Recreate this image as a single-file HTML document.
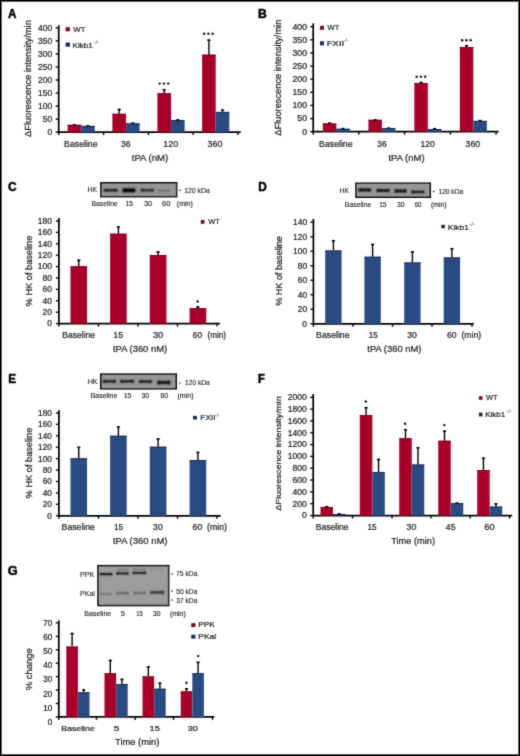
<!DOCTYPE html>
<html><head><meta charset="utf-8"><style>
html,body{margin:0;padding:0;background:#fff;}
#w{position:relative;width:520px;height:756px;overflow:hidden;}
#w svg{position:absolute;left:0;top:0;display:block;}
#b{position:absolute;left:0;top:0;width:520px;height:756px;box-shadow:inset 0 0 0 1px #000,inset 0 0 0 2px rgba(0,0,0,0.55),inset 0 0 0 3px rgba(0,0,0,0.07);}
text{font-family:"Liberation Sans",sans-serif;stroke:currentColor;stroke-width:0.22px;}
</style></head><body><div id="w">
<svg width="520" height="756" viewBox="0 0 520 756">
<defs><filter id="bl" x="-20%" y="-60%" width="140%" height="220%"><feGaussianBlur stdDeviation="0.8"/></filter><filter id="bl2" x="-20%" y="-80%" width="140%" height="260%"><feGaussianBlur stdDeviation="1.0"/></filter><filter id="bb" x="-30%" y="-100%" width="160%" height="300%"><feConvolveMatrix order="5" kernelMatrix="0.00023 0.00332 0.00809 0.00332 0.00023 0.00332 0.04785 0.11640 0.04785 0.00332 0.00809 0.11640 0.28313 0.11640 0.00809 0.00332 0.04785 0.11640 0.04785 0.00332 0.00023 0.00332 0.00809 0.00332 0.00023" edgeMode="none"/></filter><filter id="soft" x="0" y="0" width="520" height="756" filterUnits="userSpaceOnUse"><feConvolveMatrix order="3" kernelMatrix="0.01917 0.10012 0.01917 0.10012 0.52283 0.10012 0.01917 0.10012 0.01917" edgeMode="duplicate"/></filter></defs>
<rect x="0" y="0" width="520" height="756" fill="#fff"/>
<g filter="url(#soft)">
<text x="8.11" y="18.30" font-size="12" font-weight="bold" fill="#000" color="#000" textLength="8.40" lengthAdjust="spacingAndGlyphs" style="stroke-width:0.5px">A</text>
<line x1="58.70" y1="25.20" x2="58.70" y2="132.97" stroke="#000" stroke-width="1.75"/>
<line x1="55.70" y1="132.10" x2="58.70" y2="132.10" stroke="#000" stroke-width="1.35"/>
<text x="47.44" y="134.96" font-size="8.2" fill="#1e1e1e" color="#1e1e1e" textLength="4.74" lengthAdjust="spacingAndGlyphs">0</text>
<line x1="55.70" y1="119.07" x2="58.70" y2="119.07" stroke="#000" stroke-width="1.35"/>
<text x="42.70" y="121.93" font-size="8.2" fill="#1e1e1e" color="#1e1e1e" textLength="9.49" lengthAdjust="spacingAndGlyphs">50</text>
<line x1="55.70" y1="106.04" x2="58.70" y2="106.04" stroke="#000" stroke-width="1.35"/>
<text x="37.95" y="108.90" font-size="8.2" fill="#1e1e1e" color="#1e1e1e" textLength="14.23" lengthAdjust="spacingAndGlyphs">100</text>
<line x1="55.70" y1="93.01" x2="58.70" y2="93.01" stroke="#000" stroke-width="1.35"/>
<text x="37.95" y="95.87" font-size="8.2" fill="#1e1e1e" color="#1e1e1e" textLength="14.23" lengthAdjust="spacingAndGlyphs">150</text>
<line x1="55.70" y1="79.98" x2="58.70" y2="79.98" stroke="#000" stroke-width="1.35"/>
<text x="37.95" y="82.84" font-size="8.2" fill="#1e1e1e" color="#1e1e1e" textLength="14.23" lengthAdjust="spacingAndGlyphs">200</text>
<line x1="55.70" y1="66.95" x2="58.70" y2="66.95" stroke="#000" stroke-width="1.35"/>
<text x="37.95" y="69.81" font-size="8.2" fill="#1e1e1e" color="#1e1e1e" textLength="14.23" lengthAdjust="spacingAndGlyphs">250</text>
<line x1="55.70" y1="53.92" x2="58.70" y2="53.92" stroke="#000" stroke-width="1.35"/>
<text x="37.95" y="56.78" font-size="8.2" fill="#1e1e1e" color="#1e1e1e" textLength="14.23" lengthAdjust="spacingAndGlyphs">300</text>
<line x1="55.70" y1="40.89" x2="58.70" y2="40.89" stroke="#000" stroke-width="1.35"/>
<text x="37.95" y="43.75" font-size="8.2" fill="#1e1e1e" color="#1e1e1e" textLength="14.23" lengthAdjust="spacingAndGlyphs">350</text>
<line x1="55.70" y1="27.86" x2="58.70" y2="27.86" stroke="#000" stroke-width="1.35"/>
<text x="37.95" y="30.72" font-size="8.2" fill="#1e1e1e" color="#1e1e1e" textLength="14.23" lengthAdjust="spacingAndGlyphs">400</text>
<line x1="57.83" y1="132.10" x2="240.70" y2="132.10" stroke="#000" stroke-width="1.75"/>
<line x1="58.70" y1="132.10" x2="58.70" y2="135.10" stroke="#000" stroke-width="1.35"/>
<line x1="103.60" y1="132.10" x2="103.60" y2="135.10" stroke="#000" stroke-width="1.35"/>
<line x1="148.40" y1="132.10" x2="148.40" y2="135.10" stroke="#000" stroke-width="1.35"/>
<line x1="193.10" y1="132.10" x2="193.10" y2="135.10" stroke="#000" stroke-width="1.35"/>
<line x1="237.90" y1="132.10" x2="237.90" y2="135.10" stroke="#000" stroke-width="1.35"/>
<rect x="67.60" y="124.80" width="13.60" height="7.30" fill="#a6022c"/>
<rect x="67.60" y="124.80" width="13.60" height="1.00" fill="#76001f"/>
<line x1="74.40" y1="124.10" x2="74.40" y2="124.80" stroke="#000" stroke-width="1.4"/>
<line x1="72.80" y1="124.80" x2="76.00" y2="124.80" stroke="#000" stroke-width="1.5"/>
<rect x="112.40" y="113.80" width="13.60" height="18.30" fill="#a6022c"/>
<rect x="112.40" y="113.80" width="13.60" height="1.00" fill="#76001f"/>
<line x1="119.20" y1="108.80" x2="119.20" y2="113.80" stroke="#000" stroke-width="1.4"/>
<line x1="117.60" y1="109.50" x2="120.80" y2="109.50" stroke="#000" stroke-width="1.5"/>
<rect x="157.40" y="93.30" width="13.60" height="38.80" fill="#a6022c"/>
<rect x="157.40" y="93.30" width="13.60" height="1.00" fill="#76001f"/>
<line x1="164.20" y1="89.10" x2="164.20" y2="93.30" stroke="#000" stroke-width="1.4"/>
<line x1="162.60" y1="89.80" x2="165.80" y2="89.80" stroke="#000" stroke-width="1.5"/>
<rect x="202.10" y="54.70" width="13.60" height="77.40" fill="#a6022c"/>
<rect x="202.10" y="54.70" width="13.60" height="1.00" fill="#76001f"/>
<line x1="208.90" y1="39.50" x2="208.90" y2="54.70" stroke="#000" stroke-width="1.4"/>
<line x1="207.30" y1="40.20" x2="210.50" y2="40.20" stroke="#000" stroke-width="1.5"/>
<rect x="81.20" y="125.90" width="13.60" height="6.20" fill="#2c4c82"/>
<rect x="81.20" y="125.90" width="13.60" height="1.00" fill="#182b55"/>
<line x1="88.00" y1="125.20" x2="88.00" y2="125.90" stroke="#000" stroke-width="1.4"/>
<line x1="86.40" y1="125.90" x2="89.60" y2="125.90" stroke="#000" stroke-width="1.5"/>
<rect x="126.00" y="123.40" width="13.60" height="8.70" fill="#2c4c82"/>
<rect x="126.00" y="123.40" width="13.60" height="1.00" fill="#182b55"/>
<line x1="132.80" y1="122.60" x2="132.80" y2="123.40" stroke="#000" stroke-width="1.4"/>
<line x1="131.20" y1="123.30" x2="134.40" y2="123.30" stroke="#000" stroke-width="1.5"/>
<rect x="171.00" y="120.00" width="13.60" height="12.10" fill="#2c4c82"/>
<rect x="171.00" y="120.00" width="13.60" height="1.00" fill="#182b55"/>
<line x1="177.80" y1="119.30" x2="177.80" y2="120.00" stroke="#000" stroke-width="1.4"/>
<line x1="176.20" y1="120.00" x2="179.40" y2="120.00" stroke="#000" stroke-width="1.5"/>
<rect x="215.70" y="111.90" width="13.60" height="20.20" fill="#2c4c82"/>
<rect x="215.70" y="111.90" width="13.60" height="1.00" fill="#182b55"/>
<line x1="222.50" y1="109.40" x2="222.50" y2="111.90" stroke="#000" stroke-width="1.4"/>
<line x1="220.90" y1="110.10" x2="224.10" y2="110.10" stroke="#000" stroke-width="1.5"/>
<circle cx="159.65" cy="83.60" r="1.2" fill="#111"/>
<circle cx="163.90" cy="83.60" r="1.2" fill="#111"/>
<circle cx="168.15" cy="83.60" r="1.2" fill="#111"/>
<circle cx="204.15" cy="33.80" r="1.2" fill="#111"/>
<circle cx="208.40" cy="33.80" r="1.2" fill="#111"/>
<circle cx="212.65" cy="33.80" r="1.2" fill="#111"/>
<text x="64.14" y="146.60" font-size="8.3" fill="#1e1e1e" color="#1e1e1e" textLength="33.40" lengthAdjust="spacingAndGlyphs">Baseline</text>
<text x="121.02" y="146.60" font-size="8.3" fill="#1e1e1e" color="#1e1e1e" textLength="9.61" lengthAdjust="spacingAndGlyphs">36</text>
<text x="163.27" y="146.60" font-size="8.3" fill="#1e1e1e" color="#1e1e1e" textLength="14.82" lengthAdjust="spacingAndGlyphs">120</text>
<text x="207.61" y="146.60" font-size="8.3" fill="#1e1e1e" color="#1e1e1e" textLength="14.78" lengthAdjust="spacingAndGlyphs">360</text>
<text x="131.81" y="160.80" font-size="9.5" fill="#1e1e1e" color="#1e1e1e" textLength="36.31" lengthAdjust="spacingAndGlyphs">tPA (nM)</text>
<text transform="translate(31.00,137.03) rotate(-90)" x="0" y="0" font-size="8.2" fill="#1e1e1e" color="#1e1e1e" textLength="116.89" lengthAdjust="spacingAndGlyphs">ΔFluorescence intensity/min</text>
<rect x="65.60" y="27.20" width="4.30" height="4.10" fill="#720828"/>
<text x="73.22" y="31.90" font-size="8.0" fill="#1e1e1e" color="#1e1e1e" textLength="12.21" lengthAdjust="spacingAndGlyphs">WT</text>
<rect x="65.60" y="42.60" width="4.30" height="4.10" fill="#1f2b58"/>
<text x="72.59" y="47.70" font-size="8.0" fill="#1e1e1e" color="#1e1e1e" textLength="20.26" lengthAdjust="spacingAndGlyphs">Klkb1</text>
<text x="93.53" y="43.60" font-size="5.4" fill="#6a6a6a" color="#6a6a6a" textLength="5.63" lengthAdjust="spacingAndGlyphs" style="stroke-width:0.12px">-/-</text>
<text x="258.09" y="18.30" font-size="12" font-weight="bold" fill="#000" color="#000" textLength="8.76" lengthAdjust="spacingAndGlyphs" style="stroke-width:0.5px">B</text>
<line x1="313.20" y1="23.40" x2="313.20" y2="132.57" stroke="#000" stroke-width="1.75"/>
<line x1="310.20" y1="131.70" x2="313.20" y2="131.70" stroke="#000" stroke-width="1.35"/>
<text x="302.21" y="134.56" font-size="8.2" fill="#1e1e1e" color="#1e1e1e" textLength="4.88" lengthAdjust="spacingAndGlyphs">0</text>
<line x1="310.20" y1="118.57" x2="313.20" y2="118.57" stroke="#000" stroke-width="1.35"/>
<text x="297.33" y="121.44" font-size="8.2" fill="#1e1e1e" color="#1e1e1e" textLength="9.76" lengthAdjust="spacingAndGlyphs">50</text>
<line x1="310.20" y1="105.45" x2="313.20" y2="105.45" stroke="#000" stroke-width="1.35"/>
<text x="292.45" y="108.31" font-size="8.2" fill="#1e1e1e" color="#1e1e1e" textLength="14.64" lengthAdjust="spacingAndGlyphs">100</text>
<line x1="310.20" y1="92.32" x2="313.20" y2="92.32" stroke="#000" stroke-width="1.35"/>
<text x="292.45" y="95.19" font-size="8.2" fill="#1e1e1e" color="#1e1e1e" textLength="14.64" lengthAdjust="spacingAndGlyphs">150</text>
<line x1="310.20" y1="79.20" x2="313.20" y2="79.20" stroke="#000" stroke-width="1.35"/>
<text x="292.45" y="82.06" font-size="8.2" fill="#1e1e1e" color="#1e1e1e" textLength="14.64" lengthAdjust="spacingAndGlyphs">200</text>
<line x1="310.20" y1="66.07" x2="313.20" y2="66.07" stroke="#000" stroke-width="1.35"/>
<text x="292.45" y="68.94" font-size="8.2" fill="#1e1e1e" color="#1e1e1e" textLength="14.64" lengthAdjust="spacingAndGlyphs">250</text>
<line x1="310.20" y1="52.95" x2="313.20" y2="52.95" stroke="#000" stroke-width="1.35"/>
<text x="292.45" y="55.81" font-size="8.2" fill="#1e1e1e" color="#1e1e1e" textLength="14.64" lengthAdjust="spacingAndGlyphs">300</text>
<line x1="310.20" y1="39.82" x2="313.20" y2="39.82" stroke="#000" stroke-width="1.35"/>
<text x="292.45" y="42.69" font-size="8.2" fill="#1e1e1e" color="#1e1e1e" textLength="14.64" lengthAdjust="spacingAndGlyphs">350</text>
<line x1="310.20" y1="26.70" x2="313.20" y2="26.70" stroke="#000" stroke-width="1.35"/>
<text x="292.45" y="29.56" font-size="8.2" fill="#1e1e1e" color="#1e1e1e" textLength="14.64" lengthAdjust="spacingAndGlyphs">400</text>
<line x1="312.32" y1="131.70" x2="498.70" y2="131.70" stroke="#000" stroke-width="1.75"/>
<line x1="313.20" y1="131.70" x2="313.20" y2="134.70" stroke="#000" stroke-width="1.35"/>
<line x1="358.80" y1="131.70" x2="358.80" y2="134.70" stroke="#000" stroke-width="1.35"/>
<line x1="404.50" y1="131.70" x2="404.50" y2="134.70" stroke="#000" stroke-width="1.35"/>
<line x1="450.40" y1="131.70" x2="450.40" y2="134.70" stroke="#000" stroke-width="1.35"/>
<line x1="496.10" y1="131.70" x2="496.10" y2="134.70" stroke="#000" stroke-width="1.35"/>
<rect x="322.80" y="123.50" width="13.50" height="8.20" fill="#a6022c"/>
<rect x="322.80" y="123.50" width="13.50" height="1.00" fill="#76001f"/>
<line x1="329.55" y1="122.50" x2="329.55" y2="123.50" stroke="#000" stroke-width="1.4"/>
<line x1="327.95" y1="123.20" x2="331.15" y2="123.20" stroke="#000" stroke-width="1.5"/>
<rect x="368.40" y="119.80" width="13.50" height="11.90" fill="#a6022c"/>
<rect x="368.40" y="119.80" width="13.50" height="1.00" fill="#76001f"/>
<line x1="375.15" y1="119.30" x2="375.15" y2="119.80" stroke="#000" stroke-width="1.4"/>
<line x1="373.55" y1="120.00" x2="376.75" y2="120.00" stroke="#000" stroke-width="1.5"/>
<rect x="414.30" y="83.00" width="13.50" height="48.70" fill="#a6022c"/>
<rect x="414.30" y="83.00" width="13.50" height="1.00" fill="#76001f"/>
<line x1="421.05" y1="81.80" x2="421.05" y2="83.00" stroke="#000" stroke-width="1.4"/>
<line x1="419.45" y1="82.50" x2="422.65" y2="82.50" stroke="#000" stroke-width="1.5"/>
<rect x="459.80" y="47.10" width="13.50" height="84.60" fill="#a6022c"/>
<rect x="459.80" y="47.10" width="13.50" height="1.00" fill="#76001f"/>
<line x1="466.55" y1="45.00" x2="466.55" y2="47.10" stroke="#000" stroke-width="1.4"/>
<line x1="464.95" y1="45.70" x2="468.15" y2="45.70" stroke="#000" stroke-width="1.5"/>
<rect x="336.30" y="128.80" width="13.50" height="2.90" fill="#2c4c82"/>
<rect x="336.30" y="128.80" width="13.50" height="1.00" fill="#182b55"/>
<line x1="343.05" y1="127.90" x2="343.05" y2="128.80" stroke="#000" stroke-width="1.4"/>
<line x1="341.45" y1="128.60" x2="344.65" y2="128.60" stroke="#000" stroke-width="1.5"/>
<rect x="381.90" y="128.10" width="13.50" height="3.60" fill="#2c4c82"/>
<rect x="381.90" y="128.10" width="13.50" height="1.00" fill="#182b55"/>
<line x1="388.65" y1="127.50" x2="388.65" y2="128.10" stroke="#000" stroke-width="1.4"/>
<line x1="387.05" y1="128.20" x2="390.25" y2="128.20" stroke="#000" stroke-width="1.5"/>
<rect x="427.80" y="129.00" width="13.50" height="2.70" fill="#2c4c82"/>
<rect x="427.80" y="129.00" width="13.50" height="1.00" fill="#182b55"/>
<line x1="434.55" y1="128.00" x2="434.55" y2="129.00" stroke="#000" stroke-width="1.4"/>
<line x1="432.95" y1="128.70" x2="436.15" y2="128.70" stroke="#000" stroke-width="1.5"/>
<rect x="473.30" y="120.90" width="13.50" height="10.80" fill="#2c4c82"/>
<rect x="473.30" y="120.90" width="13.50" height="1.00" fill="#182b55"/>
<line x1="480.05" y1="119.90" x2="480.05" y2="120.90" stroke="#000" stroke-width="1.4"/>
<line x1="478.45" y1="120.60" x2="481.65" y2="120.60" stroke="#000" stroke-width="1.5"/>
<circle cx="416.65" cy="76.80" r="1.2" fill="#111"/>
<circle cx="420.90" cy="76.80" r="1.2" fill="#111"/>
<circle cx="425.15" cy="76.80" r="1.2" fill="#111"/>
<circle cx="462.15" cy="40.30" r="1.2" fill="#111"/>
<circle cx="466.40" cy="40.30" r="1.2" fill="#111"/>
<circle cx="470.65" cy="40.30" r="1.2" fill="#111"/>
<text x="319.14" y="146.90" font-size="8.3" fill="#1e1e1e" color="#1e1e1e" textLength="33.40" lengthAdjust="spacingAndGlyphs">Baseline</text>
<text x="377.23" y="146.90" font-size="8.3" fill="#1e1e1e" color="#1e1e1e" textLength="9.39" lengthAdjust="spacingAndGlyphs">36</text>
<text x="420.40" y="146.90" font-size="8.3" fill="#1e1e1e" color="#1e1e1e" textLength="14.29" lengthAdjust="spacingAndGlyphs">120</text>
<text x="465.62" y="146.90" font-size="8.3" fill="#1e1e1e" color="#1e1e1e" textLength="14.47" lengthAdjust="spacingAndGlyphs">360</text>
<text x="388.41" y="160.80" font-size="9.5" fill="#1e1e1e" color="#1e1e1e" textLength="36.21" lengthAdjust="spacingAndGlyphs">tPA (nM)</text>
<text transform="translate(281.20,135.63) rotate(-90)" x="0" y="0" font-size="8.2" fill="#1e1e1e" color="#1e1e1e" textLength="115.98" lengthAdjust="spacingAndGlyphs">ΔFluorescence intensity/min</text>
<rect x="320.00" y="25.80" width="4.00" height="4.00" fill="#720828"/>
<text x="327.62" y="30.40" font-size="8.0" fill="#1e1e1e" color="#1e1e1e" textLength="11.81" lengthAdjust="spacingAndGlyphs">WT</text>
<rect x="320.00" y="41.20" width="4.00" height="4.20" fill="#1f2b58"/>
<text x="326.88" y="46.00" font-size="8.0" fill="#1e1e1e" color="#1e1e1e" textLength="17.24" lengthAdjust="spacingAndGlyphs">FXII</text>
<text x="343.36" y="41.80" font-size="5.4" fill="#6a6a6a" color="#6a6a6a" textLength="5.19" lengthAdjust="spacingAndGlyphs" style="stroke-width:0.12px">-/-</text>
<text x="7.91" y="191.20" font-size="12" font-weight="bold" fill="#000" color="#000" textLength="8.62" lengthAdjust="spacingAndGlyphs" style="stroke-width:0.5px">C</text>
<rect x="100.20" y="182.00" width="77.20" height="15.40" fill="#000"/>
<rect x="101.70" y="183.50" width="74.20" height="12.40" fill="#959595"/>
<g opacity="0.95" fill="#111" filter="url(#bb)">
<ellipse cx="105.30" cy="190.25" rx="1.60" ry="1.75"/>
<ellipse cx="116.10" cy="190.25" rx="1.60" ry="1.75"/>
<rect x="105.30" y="188.94" width="10.80" height="2.62"/>
</g>
<g opacity="1.0" fill="#050505" filter="url(#bb)">
<ellipse cx="124.20" cy="190.30" rx="2.00" ry="2.40"/>
<ellipse cx="133.70" cy="190.30" rx="2.00" ry="2.40"/>
<rect x="124.20" y="188.26" width="9.50" height="4.08"/>
</g>
<g opacity="0.9" fill="#151515" filter="url(#bb)">
<ellipse cx="142.10" cy="190.25" rx="1.60" ry="1.65"/>
<ellipse cx="152.40" cy="190.25" rx="1.60" ry="1.65"/>
<rect x="142.10" y="189.01" width="10.30" height="2.48"/>
</g>
<g opacity="0.55" fill="#444" filter="url(#bb)">
<ellipse cx="159.30" cy="190.60" rx="1.60" ry="1.30"/>
<ellipse cx="168.90" cy="190.60" rx="1.60" ry="0.91"/>
<rect x="159.30" y="189.69" width="9.60" height="1.82"/>
</g>
<text x="87.49" y="192.30" font-size="6.8" fill="#1e1e1e" color="#1e1e1e" textLength="9.54" lengthAdjust="spacingAndGlyphs" style="stroke-width:0.12px">HK</text>
<rect x="179.30" y="189.70" width="1.40" height="1.20" fill="#111"/>
<text x="184.23" y="193.30" font-size="6.8" fill="#1e1e1e" color="#1e1e1e" textLength="25.62" lengthAdjust="spacingAndGlyphs" style="stroke-width:0.12px">120 kDa</text>
<text x="91.49" y="206.10" font-size="6.8" fill="#1e1e1e" color="#1e1e1e" textLength="26.27" lengthAdjust="spacingAndGlyphs" style="stroke-width:0.12px">Baseline</text>
<text x="125.54" y="206.10" font-size="6.8" fill="#1e1e1e" color="#1e1e1e" textLength="7.38" lengthAdjust="spacingAndGlyphs" style="stroke-width:0.12px">15</text>
<text x="143.97" y="206.10" font-size="6.8" fill="#1e1e1e" color="#1e1e1e" textLength="8.17" lengthAdjust="spacingAndGlyphs" style="stroke-width:0.12px">30</text>
<text x="162.07" y="206.10" font-size="6.8" fill="#1e1e1e" color="#1e1e1e" textLength="8.27" lengthAdjust="spacingAndGlyphs" style="stroke-width:0.12px">60</text>
<text x="176.82" y="206.10" font-size="6.8" fill="#1e1e1e" color="#1e1e1e" textLength="15.97" lengthAdjust="spacingAndGlyphs" style="stroke-width:0.12px">(min)</text>
<line x1="58.90" y1="218.00" x2="58.90" y2="324.48" stroke="#000" stroke-width="1.75"/>
<line x1="55.90" y1="323.60" x2="58.90" y2="323.60" stroke="#000" stroke-width="1.35"/>
<text x="47.35" y="326.46" font-size="8.2" fill="#1e1e1e" color="#1e1e1e" textLength="4.73" lengthAdjust="spacingAndGlyphs">0</text>
<line x1="55.90" y1="312.20" x2="58.90" y2="312.20" stroke="#000" stroke-width="1.35"/>
<text x="42.62" y="315.06" font-size="8.2" fill="#1e1e1e" color="#1e1e1e" textLength="9.46" lengthAdjust="spacingAndGlyphs">20</text>
<line x1="55.90" y1="300.80" x2="58.90" y2="300.80" stroke="#000" stroke-width="1.35"/>
<text x="42.62" y="303.66" font-size="8.2" fill="#1e1e1e" color="#1e1e1e" textLength="9.46" lengthAdjust="spacingAndGlyphs">40</text>
<line x1="55.90" y1="289.40" x2="58.90" y2="289.40" stroke="#000" stroke-width="1.35"/>
<text x="42.62" y="292.26" font-size="8.2" fill="#1e1e1e" color="#1e1e1e" textLength="9.46" lengthAdjust="spacingAndGlyphs">60</text>
<line x1="55.90" y1="278.00" x2="58.90" y2="278.00" stroke="#000" stroke-width="1.35"/>
<text x="42.62" y="280.86" font-size="8.2" fill="#1e1e1e" color="#1e1e1e" textLength="9.46" lengthAdjust="spacingAndGlyphs">80</text>
<line x1="55.90" y1="266.60" x2="58.90" y2="266.60" stroke="#000" stroke-width="1.35"/>
<text x="37.89" y="269.46" font-size="8.2" fill="#1e1e1e" color="#1e1e1e" textLength="14.19" lengthAdjust="spacingAndGlyphs">100</text>
<line x1="55.90" y1="255.20" x2="58.90" y2="255.20" stroke="#000" stroke-width="1.35"/>
<text x="37.89" y="258.06" font-size="8.2" fill="#1e1e1e" color="#1e1e1e" textLength="14.19" lengthAdjust="spacingAndGlyphs">120</text>
<line x1="55.90" y1="243.80" x2="58.90" y2="243.80" stroke="#000" stroke-width="1.35"/>
<text x="37.89" y="246.66" font-size="8.2" fill="#1e1e1e" color="#1e1e1e" textLength="14.19" lengthAdjust="spacingAndGlyphs">140</text>
<line x1="55.90" y1="232.40" x2="58.90" y2="232.40" stroke="#000" stroke-width="1.35"/>
<text x="37.89" y="235.26" font-size="8.2" fill="#1e1e1e" color="#1e1e1e" textLength="14.19" lengthAdjust="spacingAndGlyphs">160</text>
<line x1="55.90" y1="221.00" x2="58.90" y2="221.00" stroke="#000" stroke-width="1.35"/>
<text x="37.89" y="223.86" font-size="8.2" fill="#1e1e1e" color="#1e1e1e" textLength="14.19" lengthAdjust="spacingAndGlyphs">180</text>
<line x1="58.02" y1="323.60" x2="220.00" y2="323.60" stroke="#000" stroke-width="1.75"/>
<line x1="58.90" y1="323.60" x2="58.90" y2="326.60" stroke="#000" stroke-width="1.35"/>
<line x1="98.50" y1="323.60" x2="98.50" y2="326.60" stroke="#000" stroke-width="1.35"/>
<line x1="138.00" y1="323.60" x2="138.00" y2="326.60" stroke="#000" stroke-width="1.35"/>
<line x1="177.50" y1="323.60" x2="177.50" y2="326.60" stroke="#000" stroke-width="1.35"/>
<line x1="217.00" y1="323.60" x2="217.00" y2="326.60" stroke="#000" stroke-width="1.35"/>
<rect x="70.45" y="266.30" width="16.60" height="57.30" fill="#a6022c"/>
<rect x="70.45" y="266.30" width="16.60" height="1.00" fill="#76001f"/>
<line x1="78.75" y1="259.60" x2="78.75" y2="266.30" stroke="#000" stroke-width="1.4"/>
<line x1="77.15" y1="260.30" x2="80.35" y2="260.30" stroke="#000" stroke-width="1.5"/>
<rect x="110.10" y="233.70" width="16.60" height="89.90" fill="#a6022c"/>
<rect x="110.10" y="233.70" width="16.60" height="1.00" fill="#76001f"/>
<line x1="118.40" y1="226.25" x2="118.40" y2="233.70" stroke="#000" stroke-width="1.4"/>
<line x1="116.80" y1="226.95" x2="120.00" y2="226.95" stroke="#000" stroke-width="1.5"/>
<rect x="149.80" y="255.00" width="16.60" height="68.60" fill="#a6022c"/>
<rect x="149.80" y="255.00" width="16.60" height="1.00" fill="#76001f"/>
<line x1="158.10" y1="251.25" x2="158.10" y2="255.00" stroke="#000" stroke-width="1.4"/>
<line x1="156.50" y1="251.95" x2="159.70" y2="251.95" stroke="#000" stroke-width="1.5"/>
<rect x="189.60" y="308.25" width="16.60" height="15.35" fill="#a6022c"/>
<rect x="189.60" y="308.25" width="16.60" height="1.00" fill="#76001f"/>
<line x1="197.90" y1="306.25" x2="197.90" y2="308.25" stroke="#000" stroke-width="1.4"/>
<line x1="196.30" y1="306.95" x2="199.50" y2="306.95" stroke="#000" stroke-width="1.5"/>
<circle cx="197.60" cy="301.50" r="1.2" fill="#111"/>
<rect x="200.75" y="220.00" width="3.75" height="3.75" fill="#720828"/>
<text x="208.22" y="224.40" font-size="8.0" fill="#1e1e1e" color="#1e1e1e" textLength="11.71" lengthAdjust="spacingAndGlyphs">WT</text>
<text x="62.25" y="337.80" font-size="8.3" fill="#1e1e1e" color="#1e1e1e" textLength="32.88" lengthAdjust="spacingAndGlyphs">Baseline</text>
<text x="113.38" y="337.80" font-size="8.3" fill="#1e1e1e" color="#1e1e1e" textLength="9.73" lengthAdjust="spacingAndGlyphs">15</text>
<text x="152.90" y="337.80" font-size="8.3" fill="#1e1e1e" color="#1e1e1e" textLength="10.32" lengthAdjust="spacingAndGlyphs">30</text>
<text x="192.83" y="337.80" font-size="8.3" fill="#1e1e1e" color="#1e1e1e" textLength="9.14" lengthAdjust="spacingAndGlyphs">60</text>
<text x="207.45" y="337.80" font-size="8.3" fill="#1e1e1e" color="#1e1e1e" textLength="18.51" lengthAdjust="spacingAndGlyphs">(min)</text>
<text x="113.01" y="352.10" font-size="9.5" fill="#1e1e1e" color="#1e1e1e" textLength="54.11" lengthAdjust="spacingAndGlyphs">tPA (360 nM)</text>
<text transform="translate(31.60,306.38) rotate(-90)" x="0" y="0" font-size="9.8" fill="#1e1e1e" color="#1e1e1e" textLength="70.74" lengthAdjust="spacingAndGlyphs">% HK of baseline</text>
<text x="258.26" y="191.40" font-size="12" font-weight="bold" fill="#000" color="#000" textLength="8.54" lengthAdjust="spacingAndGlyphs" style="stroke-width:0.5px">D</text>
<rect x="355.20" y="182.50" width="75.80" height="15.50" fill="#000"/>
<rect x="356.70" y="184.00" width="72.80" height="12.50" fill="#969696"/>
<g opacity="1.0" fill="#0a0a0a" filter="url(#bb)">
<ellipse cx="359.90" cy="189.90" rx="1.60" ry="2.00"/>
<ellipse cx="369.70" cy="189.90" rx="1.60" ry="2.00"/>
<rect x="359.90" y="188.40" width="9.80" height="3.00"/>
</g>
<g opacity="1.0" fill="#0a0a0a" filter="url(#bb)">
<ellipse cx="377.90" cy="190.50" rx="1.60" ry="2.00"/>
<ellipse cx="388.20" cy="190.50" rx="1.60" ry="2.00"/>
<rect x="377.90" y="189.00" width="10.30" height="3.00"/>
</g>
<g opacity="1.0" fill="#0a0a0a" filter="url(#bb)">
<ellipse cx="395.88" cy="191.00" rx="1.57" ry="2.00"/>
<ellipse cx="405.32" cy="191.00" rx="1.57" ry="2.00"/>
<rect x="395.88" y="189.50" width="9.45" height="3.00"/>
</g>
<g opacity="1.0" fill="#0a0a0a" filter="url(#bb)">
<ellipse cx="412.90" cy="192.00" rx="1.60" ry="2.00"/>
<ellipse cx="423.00" cy="192.00" rx="1.60" ry="1.40"/>
<rect x="412.90" y="190.80" width="10.10" height="2.40"/>
</g>
<text x="339.81" y="192.80" font-size="6.8" fill="#1e1e1e" color="#1e1e1e" textLength="9.11" lengthAdjust="spacingAndGlyphs" style="stroke-width:0.12px">HK</text>
<rect x="432.90" y="190.90" width="1.40" height="1.20" fill="#111"/>
<text x="438.55" y="193.90" font-size="6.8" fill="#1e1e1e" color="#1e1e1e" textLength="24.50" lengthAdjust="spacingAndGlyphs" style="stroke-width:0.12px">120 kDa</text>
<text x="344.78" y="206.80" font-size="6.8" fill="#1e1e1e" color="#1e1e1e" textLength="26.58" lengthAdjust="spacingAndGlyphs" style="stroke-width:0.12px">Baseline</text>
<text x="379.14" y="206.80" font-size="6.8" fill="#1e1e1e" color="#1e1e1e" textLength="7.38" lengthAdjust="spacingAndGlyphs" style="stroke-width:0.12px">15</text>
<text x="396.99" y="206.80" font-size="6.8" fill="#1e1e1e" color="#1e1e1e" textLength="7.63" lengthAdjust="spacingAndGlyphs" style="stroke-width:0.12px">30</text>
<text x="414.74" y="206.80" font-size="6.8" fill="#1e1e1e" color="#1e1e1e" textLength="6.74" lengthAdjust="spacingAndGlyphs" style="stroke-width:0.12px">60</text>
<text x="431.03" y="206.80" font-size="6.8" fill="#1e1e1e" color="#1e1e1e" textLength="15.55" lengthAdjust="spacingAndGlyphs" style="stroke-width:0.12px">(min)</text>
<line x1="313.40" y1="219.00" x2="313.40" y2="324.62" stroke="#000" stroke-width="1.75"/>
<line x1="310.40" y1="323.75" x2="313.40" y2="323.75" stroke="#000" stroke-width="1.35"/>
<text x="302.39" y="326.61" font-size="8.2" fill="#1e1e1e" color="#1e1e1e" textLength="4.69" lengthAdjust="spacingAndGlyphs">0</text>
<line x1="310.40" y1="309.25" x2="313.40" y2="309.25" stroke="#000" stroke-width="1.35"/>
<text x="297.69" y="312.11" font-size="8.2" fill="#1e1e1e" color="#1e1e1e" textLength="9.39" lengthAdjust="spacingAndGlyphs">20</text>
<line x1="310.40" y1="294.75" x2="313.40" y2="294.75" stroke="#000" stroke-width="1.35"/>
<text x="297.69" y="297.61" font-size="8.2" fill="#1e1e1e" color="#1e1e1e" textLength="9.39" lengthAdjust="spacingAndGlyphs">40</text>
<line x1="310.40" y1="280.25" x2="313.40" y2="280.25" stroke="#000" stroke-width="1.35"/>
<text x="297.69" y="283.11" font-size="8.2" fill="#1e1e1e" color="#1e1e1e" textLength="9.39" lengthAdjust="spacingAndGlyphs">60</text>
<line x1="310.40" y1="265.75" x2="313.40" y2="265.75" stroke="#000" stroke-width="1.35"/>
<text x="297.69" y="268.61" font-size="8.2" fill="#1e1e1e" color="#1e1e1e" textLength="9.39" lengthAdjust="spacingAndGlyphs">80</text>
<line x1="310.40" y1="251.25" x2="313.40" y2="251.25" stroke="#000" stroke-width="1.35"/>
<text x="293.00" y="254.11" font-size="8.2" fill="#1e1e1e" color="#1e1e1e" textLength="14.08" lengthAdjust="spacingAndGlyphs">100</text>
<line x1="310.40" y1="236.75" x2="313.40" y2="236.75" stroke="#000" stroke-width="1.35"/>
<text x="293.00" y="239.61" font-size="8.2" fill="#1e1e1e" color="#1e1e1e" textLength="14.08" lengthAdjust="spacingAndGlyphs">120</text>
<line x1="310.40" y1="222.25" x2="313.40" y2="222.25" stroke="#000" stroke-width="1.35"/>
<text x="293.00" y="225.11" font-size="8.2" fill="#1e1e1e" color="#1e1e1e" textLength="14.08" lengthAdjust="spacingAndGlyphs">140</text>
<line x1="312.52" y1="323.75" x2="473.75" y2="323.75" stroke="#000" stroke-width="1.75"/>
<line x1="313.40" y1="323.75" x2="313.40" y2="326.75" stroke="#000" stroke-width="1.35"/>
<line x1="353.00" y1="323.75" x2="353.00" y2="326.75" stroke="#000" stroke-width="1.35"/>
<line x1="392.50" y1="323.75" x2="392.50" y2="326.75" stroke="#000" stroke-width="1.35"/>
<line x1="432.00" y1="323.75" x2="432.00" y2="326.75" stroke="#000" stroke-width="1.35"/>
<line x1="472.00" y1="323.75" x2="472.00" y2="326.75" stroke="#000" stroke-width="1.35"/>
<rect x="325.20" y="250.50" width="16.40" height="73.25" fill="#2c4c82"/>
<rect x="325.20" y="250.50" width="16.40" height="1.00" fill="#182b55"/>
<line x1="333.40" y1="240.00" x2="333.40" y2="250.50" stroke="#000" stroke-width="1.4"/>
<line x1="331.80" y1="240.70" x2="335.00" y2="240.70" stroke="#000" stroke-width="1.5"/>
<rect x="364.40" y="256.75" width="16.40" height="67.00" fill="#2c4c82"/>
<rect x="364.40" y="256.75" width="16.40" height="1.00" fill="#182b55"/>
<line x1="372.60" y1="243.75" x2="372.60" y2="256.75" stroke="#000" stroke-width="1.4"/>
<line x1="371.00" y1="244.45" x2="374.20" y2="244.45" stroke="#000" stroke-width="1.5"/>
<rect x="404.20" y="262.50" width="16.40" height="61.25" fill="#2c4c82"/>
<rect x="404.20" y="262.50" width="16.40" height="1.00" fill="#182b55"/>
<line x1="412.40" y1="251.25" x2="412.40" y2="262.50" stroke="#000" stroke-width="1.4"/>
<line x1="410.80" y1="251.95" x2="414.00" y2="251.95" stroke="#000" stroke-width="1.5"/>
<rect x="443.70" y="257.50" width="16.40" height="66.25" fill="#2c4c82"/>
<rect x="443.70" y="257.50" width="16.40" height="1.00" fill="#182b55"/>
<line x1="451.90" y1="248.00" x2="451.90" y2="257.50" stroke="#000" stroke-width="1.4"/>
<line x1="450.30" y1="248.70" x2="453.50" y2="248.70" stroke="#000" stroke-width="1.5"/>
<rect x="441.30" y="224.80" width="3.60" height="3.50" fill="#1f2b58"/>
<text x="447.81" y="229.60" font-size="8.0" fill="#1e1e1e" color="#1e1e1e" textLength="21.10" lengthAdjust="spacingAndGlyphs">Klkb1</text>
<text x="469.34" y="225.80" font-size="5.4" fill="#6a6a6a" color="#6a6a6a" textLength="5.52" lengthAdjust="spacingAndGlyphs" style="stroke-width:0.12px">-/-</text>
<text x="316.14" y="338.00" font-size="8.3" fill="#1e1e1e" color="#1e1e1e" textLength="33.40" lengthAdjust="spacingAndGlyphs">Baseline</text>
<text x="368.83" y="338.00" font-size="8.3" fill="#1e1e1e" color="#1e1e1e" textLength="9.06" lengthAdjust="spacingAndGlyphs">15</text>
<text x="407.32" y="338.00" font-size="8.3" fill="#1e1e1e" color="#1e1e1e" textLength="9.56" lengthAdjust="spacingAndGlyphs">30</text>
<text x="446.91" y="338.00" font-size="8.3" fill="#1e1e1e" color="#1e1e1e" textLength="9.57" lengthAdjust="spacingAndGlyphs">60</text>
<text x="461.51" y="338.00" font-size="8.3" fill="#1e1e1e" color="#1e1e1e" textLength="19.67" lengthAdjust="spacingAndGlyphs">(min)</text>
<text x="367.31" y="352.30" font-size="9.5" fill="#1e1e1e" color="#1e1e1e" textLength="54.11" lengthAdjust="spacingAndGlyphs">tPA (360 nM)</text>
<text transform="translate(281.80,305.87) rotate(-90)" x="0" y="0" font-size="9.8" fill="#1e1e1e" color="#1e1e1e" textLength="69.73" lengthAdjust="spacingAndGlyphs">% HK of baseline</text>
<text x="8.27" y="382.80" font-size="12" font-weight="bold" fill="#000" color="#000" textLength="7.79" lengthAdjust="spacingAndGlyphs" style="stroke-width:0.5px">E</text>
<rect x="100.00" y="373.40" width="77.00" height="16.10" fill="#000"/>
<rect x="101.50" y="374.90" width="74.00" height="13.10" fill="#969696"/>
<g opacity="1.0" fill="#0a0a0a" filter="url(#bb)">
<ellipse cx="104.60" cy="381.25" rx="1.60" ry="1.65"/>
<ellipse cx="114.40" cy="381.25" rx="1.60" ry="1.65"/>
<rect x="104.60" y="380.10" width="9.80" height="2.31"/>
</g>
<g opacity="1.0" fill="#0a0a0a" filter="url(#bb)">
<ellipse cx="121.60" cy="381.25" rx="1.60" ry="1.65"/>
<ellipse cx="132.50" cy="381.25" rx="1.60" ry="1.65"/>
<rect x="121.60" y="380.10" width="10.90" height="2.31"/>
</g>
<g opacity="1.0" fill="#0a0a0a" filter="url(#bb)">
<ellipse cx="140.40" cy="381.55" rx="1.60" ry="1.49"/>
<ellipse cx="150.50" cy="381.55" rx="1.60" ry="1.75"/>
<rect x="140.40" y="380.32" width="10.10" height="2.45"/>
</g>
<g opacity="1.0" fill="#0a0a0a" filter="url(#bb)">
<ellipse cx="158.60" cy="382.45" rx="1.60" ry="2.25"/>
<ellipse cx="168.80" cy="382.45" rx="1.60" ry="2.25"/>
<rect x="158.60" y="380.88" width="10.20" height="3.15"/>
</g>
<text x="87.66" y="383.90" font-size="6.8" fill="#1e1e1e" color="#1e1e1e" textLength="9.97" lengthAdjust="spacingAndGlyphs" style="stroke-width:0.12px">HK</text>
<rect x="179.30" y="382.40" width="1.40" height="1.20" fill="#111"/>
<text x="185.05" y="385.20" font-size="6.8" fill="#1e1e1e" color="#1e1e1e" textLength="24.60" lengthAdjust="spacingAndGlyphs" style="stroke-width:0.12px">120 kDa</text>
<text x="90.68" y="397.90" font-size="6.8" fill="#1e1e1e" color="#1e1e1e" textLength="26.68" lengthAdjust="spacingAndGlyphs" style="stroke-width:0.12px">Baseline</text>
<text x="123.72" y="397.90" font-size="6.8" fill="#1e1e1e" color="#1e1e1e" textLength="7.72" lengthAdjust="spacingAndGlyphs" style="stroke-width:0.12px">15</text>
<text x="141.50" y="397.90" font-size="6.8" fill="#1e1e1e" color="#1e1e1e" textLength="7.41" lengthAdjust="spacingAndGlyphs" style="stroke-width:0.12px">30</text>
<text x="160.41" y="397.90" font-size="6.8" fill="#1e1e1e" color="#1e1e1e" textLength="7.51" lengthAdjust="spacingAndGlyphs" style="stroke-width:0.12px">60</text>
<text x="177.41" y="397.90" font-size="6.8" fill="#1e1e1e" color="#1e1e1e" textLength="16.08" lengthAdjust="spacingAndGlyphs" style="stroke-width:0.12px">(min)</text>
<line x1="58.90" y1="410.20" x2="58.90" y2="516.62" stroke="#000" stroke-width="1.75"/>
<line x1="55.90" y1="515.75" x2="58.90" y2="515.75" stroke="#000" stroke-width="1.35"/>
<text x="47.29" y="518.61" font-size="8.2" fill="#1e1e1e" color="#1e1e1e" textLength="4.58" lengthAdjust="spacingAndGlyphs">0</text>
<line x1="55.90" y1="504.33" x2="58.90" y2="504.33" stroke="#000" stroke-width="1.35"/>
<text x="42.71" y="507.19" font-size="8.2" fill="#1e1e1e" color="#1e1e1e" textLength="9.16" lengthAdjust="spacingAndGlyphs">20</text>
<line x1="55.90" y1="492.91" x2="58.90" y2="492.91" stroke="#000" stroke-width="1.35"/>
<text x="42.71" y="495.77" font-size="8.2" fill="#1e1e1e" color="#1e1e1e" textLength="9.16" lengthAdjust="spacingAndGlyphs">40</text>
<line x1="55.90" y1="481.49" x2="58.90" y2="481.49" stroke="#000" stroke-width="1.35"/>
<text x="42.71" y="484.35" font-size="8.2" fill="#1e1e1e" color="#1e1e1e" textLength="9.16" lengthAdjust="spacingAndGlyphs">60</text>
<line x1="55.90" y1="470.07" x2="58.90" y2="470.07" stroke="#000" stroke-width="1.35"/>
<text x="42.71" y="472.93" font-size="8.2" fill="#1e1e1e" color="#1e1e1e" textLength="9.16" lengthAdjust="spacingAndGlyphs">80</text>
<line x1="55.90" y1="458.65" x2="58.90" y2="458.65" stroke="#000" stroke-width="1.35"/>
<text x="38.14" y="461.51" font-size="8.2" fill="#1e1e1e" color="#1e1e1e" textLength="13.74" lengthAdjust="spacingAndGlyphs">100</text>
<line x1="55.90" y1="447.23" x2="58.90" y2="447.23" stroke="#000" stroke-width="1.35"/>
<text x="38.14" y="450.09" font-size="8.2" fill="#1e1e1e" color="#1e1e1e" textLength="13.74" lengthAdjust="spacingAndGlyphs">120</text>
<line x1="55.90" y1="435.81" x2="58.90" y2="435.81" stroke="#000" stroke-width="1.35"/>
<text x="38.14" y="438.67" font-size="8.2" fill="#1e1e1e" color="#1e1e1e" textLength="13.74" lengthAdjust="spacingAndGlyphs">140</text>
<line x1="55.90" y1="424.39" x2="58.90" y2="424.39" stroke="#000" stroke-width="1.35"/>
<text x="38.14" y="427.25" font-size="8.2" fill="#1e1e1e" color="#1e1e1e" textLength="13.74" lengthAdjust="spacingAndGlyphs">160</text>
<line x1="55.90" y1="412.97" x2="58.90" y2="412.97" stroke="#000" stroke-width="1.35"/>
<text x="38.14" y="415.83" font-size="8.2" fill="#1e1e1e" color="#1e1e1e" textLength="13.74" lengthAdjust="spacingAndGlyphs">180</text>
<line x1="58.02" y1="515.75" x2="220.75" y2="515.75" stroke="#000" stroke-width="1.75"/>
<line x1="58.90" y1="515.75" x2="58.90" y2="518.75" stroke="#000" stroke-width="1.35"/>
<line x1="98.50" y1="515.75" x2="98.50" y2="518.75" stroke="#000" stroke-width="1.35"/>
<line x1="138.00" y1="515.75" x2="138.00" y2="518.75" stroke="#000" stroke-width="1.35"/>
<line x1="177.50" y1="515.75" x2="177.50" y2="518.75" stroke="#000" stroke-width="1.35"/>
<line x1="217.00" y1="515.75" x2="217.00" y2="518.75" stroke="#000" stroke-width="1.35"/>
<rect x="70.45" y="458.30" width="16.60" height="57.45" fill="#2c4c82"/>
<rect x="70.45" y="458.30" width="16.60" height="1.00" fill="#182b55"/>
<line x1="78.75" y1="446.70" x2="78.75" y2="458.30" stroke="#000" stroke-width="1.4"/>
<line x1="77.15" y1="447.40" x2="80.35" y2="447.40" stroke="#000" stroke-width="1.5"/>
<rect x="110.10" y="435.75" width="16.60" height="80.00" fill="#2c4c82"/>
<rect x="110.10" y="435.75" width="16.60" height="1.00" fill="#182b55"/>
<line x1="118.40" y1="426.25" x2="118.40" y2="435.75" stroke="#000" stroke-width="1.4"/>
<line x1="116.80" y1="426.95" x2="120.00" y2="426.95" stroke="#000" stroke-width="1.5"/>
<rect x="149.80" y="446.75" width="16.60" height="69.00" fill="#2c4c82"/>
<rect x="149.80" y="446.75" width="16.60" height="1.00" fill="#182b55"/>
<line x1="158.10" y1="438.25" x2="158.10" y2="446.75" stroke="#000" stroke-width="1.4"/>
<line x1="156.50" y1="438.95" x2="159.70" y2="438.95" stroke="#000" stroke-width="1.5"/>
<rect x="189.60" y="460.00" width="16.60" height="55.75" fill="#2c4c82"/>
<rect x="189.60" y="460.00" width="16.60" height="1.00" fill="#182b55"/>
<line x1="197.90" y1="451.75" x2="197.90" y2="460.00" stroke="#000" stroke-width="1.4"/>
<line x1="196.30" y1="452.45" x2="199.50" y2="452.45" stroke="#000" stroke-width="1.5"/>
<rect x="193.00" y="415.90" width="3.90" height="3.60" fill="#1f2b58"/>
<text x="200.37" y="420.40" font-size="8.0" fill="#1e1e1e" color="#1e1e1e" textLength="15.14" lengthAdjust="spacingAndGlyphs">FXII</text>
<text x="215.08" y="416.80" font-size="5.4" fill="#6a6a6a" color="#6a6a6a" textLength="4.64" lengthAdjust="spacingAndGlyphs" style="stroke-width:0.12px">-/-</text>
<text x="61.64" y="530.10" font-size="8.3" fill="#1e1e1e" color="#1e1e1e" textLength="33.30" lengthAdjust="spacingAndGlyphs">Baseline</text>
<text x="114.03" y="530.10" font-size="8.3" fill="#1e1e1e" color="#1e1e1e" textLength="9.06" lengthAdjust="spacingAndGlyphs">15</text>
<text x="153.12" y="530.10" font-size="8.3" fill="#1e1e1e" color="#1e1e1e" textLength="9.56" lengthAdjust="spacingAndGlyphs">30</text>
<text x="192.50" y="530.10" font-size="8.3" fill="#1e1e1e" color="#1e1e1e" textLength="9.79" lengthAdjust="spacingAndGlyphs">60</text>
<text x="207.11" y="530.10" font-size="8.3" fill="#1e1e1e" color="#1e1e1e" textLength="19.88" lengthAdjust="spacingAndGlyphs">(min)</text>
<text x="113.01" y="544.30" font-size="9.5" fill="#1e1e1e" color="#1e1e1e" textLength="54.41" lengthAdjust="spacingAndGlyphs">tPA (360 nM)</text>
<text transform="translate(31.70,498.38) rotate(-90)" x="0" y="0" font-size="9.8" fill="#1e1e1e" color="#1e1e1e" textLength="70.74" lengthAdjust="spacingAndGlyphs">% HK of baseline</text>
<text x="258.05" y="382.60" font-size="12" font-weight="bold" fill="#000" color="#000" textLength="6.86" lengthAdjust="spacingAndGlyphs" style="stroke-width:0.5px">F</text>
<line x1="313.20" y1="394.00" x2="313.20" y2="516.38" stroke="#000" stroke-width="1.75"/>
<line x1="310.20" y1="515.50" x2="313.20" y2="515.50" stroke="#000" stroke-width="1.35"/>
<text x="302.02" y="518.36" font-size="8.2" fill="#1e1e1e" color="#1e1e1e" textLength="4.77" lengthAdjust="spacingAndGlyphs">0</text>
<line x1="310.20" y1="503.68" x2="313.20" y2="503.68" stroke="#000" stroke-width="1.35"/>
<text x="292.49" y="506.54" font-size="8.2" fill="#1e1e1e" color="#1e1e1e" textLength="14.30" lengthAdjust="spacingAndGlyphs">200</text>
<line x1="310.20" y1="491.86" x2="313.20" y2="491.86" stroke="#000" stroke-width="1.35"/>
<text x="292.49" y="494.72" font-size="8.2" fill="#1e1e1e" color="#1e1e1e" textLength="14.30" lengthAdjust="spacingAndGlyphs">400</text>
<line x1="310.20" y1="480.04" x2="313.20" y2="480.04" stroke="#000" stroke-width="1.35"/>
<text x="292.49" y="482.90" font-size="8.2" fill="#1e1e1e" color="#1e1e1e" textLength="14.30" lengthAdjust="spacingAndGlyphs">600</text>
<line x1="310.20" y1="468.22" x2="313.20" y2="468.22" stroke="#000" stroke-width="1.35"/>
<text x="292.49" y="471.08" font-size="8.2" fill="#1e1e1e" color="#1e1e1e" textLength="14.30" lengthAdjust="spacingAndGlyphs">800</text>
<line x1="310.20" y1="456.40" x2="313.20" y2="456.40" stroke="#000" stroke-width="1.35"/>
<text x="287.72" y="459.26" font-size="8.2" fill="#1e1e1e" color="#1e1e1e" textLength="19.06" lengthAdjust="spacingAndGlyphs">1000</text>
<line x1="310.20" y1="444.58" x2="313.20" y2="444.58" stroke="#000" stroke-width="1.35"/>
<text x="287.72" y="447.44" font-size="8.2" fill="#1e1e1e" color="#1e1e1e" textLength="19.06" lengthAdjust="spacingAndGlyphs">1200</text>
<line x1="310.20" y1="432.76" x2="313.20" y2="432.76" stroke="#000" stroke-width="1.35"/>
<text x="287.72" y="435.62" font-size="8.2" fill="#1e1e1e" color="#1e1e1e" textLength="19.06" lengthAdjust="spacingAndGlyphs">1400</text>
<line x1="310.20" y1="420.94" x2="313.20" y2="420.94" stroke="#000" stroke-width="1.35"/>
<text x="287.72" y="423.80" font-size="8.2" fill="#1e1e1e" color="#1e1e1e" textLength="19.06" lengthAdjust="spacingAndGlyphs">1600</text>
<line x1="310.20" y1="409.12" x2="313.20" y2="409.12" stroke="#000" stroke-width="1.35"/>
<text x="287.72" y="411.98" font-size="8.2" fill="#1e1e1e" color="#1e1e1e" textLength="19.06" lengthAdjust="spacingAndGlyphs">1800</text>
<line x1="310.20" y1="397.30" x2="313.20" y2="397.30" stroke="#000" stroke-width="1.35"/>
<text x="287.72" y="400.16" font-size="8.2" fill="#1e1e1e" color="#1e1e1e" textLength="19.06" lengthAdjust="spacingAndGlyphs">2000</text>
<line x1="312.32" y1="515.50" x2="512.20" y2="515.50" stroke="#000" stroke-width="1.75"/>
<line x1="313.20" y1="515.50" x2="313.20" y2="518.50" stroke="#000" stroke-width="1.35"/>
<line x1="352.50" y1="515.50" x2="352.50" y2="518.50" stroke="#000" stroke-width="1.35"/>
<line x1="392.00" y1="515.50" x2="392.00" y2="518.50" stroke="#000" stroke-width="1.35"/>
<line x1="431.00" y1="515.50" x2="431.00" y2="518.50" stroke="#000" stroke-width="1.35"/>
<line x1="470.20" y1="515.50" x2="470.20" y2="518.50" stroke="#000" stroke-width="1.35"/>
<line x1="509.50" y1="515.50" x2="509.50" y2="518.50" stroke="#000" stroke-width="1.35"/>
<rect x="320.50" y="507.00" width="12.50" height="8.50" fill="#a6022c"/>
<rect x="320.50" y="507.00" width="12.50" height="1.00" fill="#76001f"/>
<line x1="326.75" y1="506.00" x2="326.75" y2="507.00" stroke="#000" stroke-width="1.4"/>
<line x1="325.15" y1="506.70" x2="328.35" y2="506.70" stroke="#000" stroke-width="1.5"/>
<rect x="359.80" y="415.00" width="12.50" height="100.50" fill="#a6022c"/>
<rect x="359.80" y="415.00" width="12.50" height="1.00" fill="#76001f"/>
<line x1="366.05" y1="407.00" x2="366.05" y2="415.00" stroke="#000" stroke-width="1.4"/>
<line x1="364.45" y1="407.70" x2="367.65" y2="407.70" stroke="#000" stroke-width="1.5"/>
<rect x="399.25" y="438.25" width="12.50" height="77.25" fill="#a6022c"/>
<rect x="399.25" y="438.25" width="12.50" height="1.00" fill="#76001f"/>
<line x1="405.50" y1="429.00" x2="405.50" y2="438.25" stroke="#000" stroke-width="1.4"/>
<line x1="403.90" y1="429.70" x2="407.10" y2="429.70" stroke="#000" stroke-width="1.5"/>
<rect x="438.25" y="440.75" width="12.50" height="74.75" fill="#a6022c"/>
<rect x="438.25" y="440.75" width="12.50" height="1.00" fill="#76001f"/>
<line x1="444.50" y1="430.50" x2="444.50" y2="440.75" stroke="#000" stroke-width="1.4"/>
<line x1="442.90" y1="431.20" x2="446.10" y2="431.20" stroke="#000" stroke-width="1.5"/>
<rect x="477.20" y="470.00" width="12.50" height="45.50" fill="#a6022c"/>
<rect x="477.20" y="470.00" width="12.50" height="1.00" fill="#76001f"/>
<line x1="483.45" y1="457.60" x2="483.45" y2="470.00" stroke="#000" stroke-width="1.4"/>
<line x1="481.85" y1="458.30" x2="485.05" y2="458.30" stroke="#000" stroke-width="1.5"/>
<rect x="333.00" y="514.00" width="12.50" height="1.50" fill="#2c4c82"/>
<rect x="333.00" y="514.00" width="12.50" height="1.00" fill="#182b55"/>
<line x1="339.25" y1="513.30" x2="339.25" y2="514.00" stroke="#000" stroke-width="1.4"/>
<line x1="337.65" y1="514.00" x2="340.85" y2="514.00" stroke="#000" stroke-width="1.5"/>
<rect x="372.30" y="472.00" width="12.50" height="43.50" fill="#2c4c82"/>
<rect x="372.30" y="472.00" width="12.50" height="1.00" fill="#182b55"/>
<line x1="378.55" y1="458.75" x2="378.55" y2="472.00" stroke="#000" stroke-width="1.4"/>
<line x1="376.95" y1="459.45" x2="380.15" y2="459.45" stroke="#000" stroke-width="1.5"/>
<rect x="411.75" y="464.50" width="12.50" height="51.00" fill="#2c4c82"/>
<rect x="411.75" y="464.50" width="12.50" height="1.00" fill="#182b55"/>
<line x1="418.00" y1="447.00" x2="418.00" y2="464.50" stroke="#000" stroke-width="1.4"/>
<line x1="416.40" y1="447.70" x2="419.60" y2="447.70" stroke="#000" stroke-width="1.5"/>
<rect x="450.75" y="503.25" width="12.50" height="12.25" fill="#2c4c82"/>
<rect x="450.75" y="503.25" width="12.50" height="1.00" fill="#182b55"/>
<line x1="457.00" y1="502.50" x2="457.00" y2="503.25" stroke="#000" stroke-width="1.4"/>
<line x1="455.40" y1="503.20" x2="458.60" y2="503.20" stroke="#000" stroke-width="1.5"/>
<rect x="489.70" y="506.60" width="12.50" height="8.90" fill="#2c4c82"/>
<rect x="489.70" y="506.60" width="12.50" height="1.00" fill="#182b55"/>
<line x1="495.95" y1="503.20" x2="495.95" y2="506.60" stroke="#000" stroke-width="1.4"/>
<line x1="494.35" y1="503.90" x2="497.55" y2="503.90" stroke="#000" stroke-width="1.5"/>
<circle cx="365.80" cy="401.50" r="1.2" fill="#111"/>
<circle cx="405.10" cy="423.80" r="1.2" fill="#111"/>
<circle cx="444.30" cy="425.10" r="1.2" fill="#111"/>
<rect x="478.90" y="396.20" width="3.60" height="3.60" fill="#720828"/>
<text x="485.92" y="400.10" font-size="8.0" fill="#1e1e1e" color="#1e1e1e" textLength="11.60" lengthAdjust="spacingAndGlyphs">WT</text>
<rect x="478.90" y="412.60" width="3.60" height="3.80" fill="#1f2b58"/>
<text x="485.30" y="416.70" font-size="8.0" fill="#1e1e1e" color="#1e1e1e" textLength="19.84" lengthAdjust="spacingAndGlyphs">Klkb1</text>
<text x="506.33" y="413.00" font-size="5.4" fill="#6a6a6a" color="#6a6a6a" textLength="5.74" lengthAdjust="spacingAndGlyphs" style="stroke-width:0.12px">-/-</text>
<text x="315.75" y="530.30" font-size="8.3" fill="#1e1e1e" color="#1e1e1e" textLength="32.88" lengthAdjust="spacingAndGlyphs">Baseline</text>
<text x="367.43" y="530.30" font-size="8.3" fill="#1e1e1e" color="#1e1e1e" textLength="9.06" lengthAdjust="spacingAndGlyphs">15</text>
<text x="406.62" y="530.30" font-size="8.3" fill="#1e1e1e" color="#1e1e1e" textLength="9.78" lengthAdjust="spacingAndGlyphs">30</text>
<text x="445.85" y="530.30" font-size="8.3" fill="#1e1e1e" color="#1e1e1e" textLength="9.66" lengthAdjust="spacingAndGlyphs">45</text>
<text x="484.38" y="530.30" font-size="8.3" fill="#1e1e1e" color="#1e1e1e" textLength="10.33" lengthAdjust="spacingAndGlyphs">60</text>
<text x="391.24" y="543.60" font-size="9.5" fill="#1e1e1e" color="#1e1e1e" textLength="43.88" lengthAdjust="spacingAndGlyphs">Time (min)</text>
<text transform="translate(281.00,510.82) rotate(-90)" x="0" y="0" font-size="8.0" fill="#1e1e1e" color="#1e1e1e" textLength="114.57" lengthAdjust="spacingAndGlyphs">ΔFluorescence intensity/min</text>
<text x="7.88" y="575.10" font-size="12" font-weight="bold" fill="#000" color="#000" textLength="9.91" lengthAdjust="spacingAndGlyphs" style="stroke-width:0.5px">G</text>
<rect x="97.30" y="564.90" width="72.10" height="41.40" fill="#000"/>
<rect x="98.80" y="566.40" width="69.10" height="38.40" fill="#9d9d9d"/>
<g opacity="1.0" fill="#050505" filter="url(#bb)">
<ellipse cx="101.10" cy="574.10" rx="1.60" ry="1.30"/>
<ellipse cx="110.90" cy="574.10" rx="1.60" ry="1.30"/>
<rect x="101.10" y="573.06" width="9.80" height="2.08"/>
</g>
<g opacity="0.95" fill="#0a0a0a" filter="url(#bb)">
<ellipse cx="117.60" cy="573.35" rx="1.60" ry="1.35"/>
<ellipse cx="127.30" cy="573.35" rx="1.60" ry="1.35"/>
<rect x="117.60" y="572.34" width="9.70" height="2.03"/>
</g>
<g opacity="0.5" fill="#333" filter="url(#bb)">
<ellipse cx="118.00" cy="569.55" rx="1.50" ry="0.75"/>
<ellipse cx="127.00" cy="569.55" rx="1.50" ry="0.75"/>
<rect x="118.00" y="569.02" width="9.00" height="1.05"/>
</g>
<g opacity="0.95" fill="#0a0a0a" filter="url(#bb)">
<ellipse cx="134.00" cy="572.95" rx="1.60" ry="1.35"/>
<ellipse cx="144.60" cy="572.95" rx="1.60" ry="1.35"/>
<rect x="134.00" y="571.94" width="10.60" height="2.02"/>
</g>
<g opacity="0.5" fill="#333" filter="url(#bb)">
<ellipse cx="134.40" cy="569.35" rx="1.60" ry="0.75"/>
<ellipse cx="144.40" cy="569.35" rx="1.60" ry="0.75"/>
<rect x="134.40" y="568.83" width="10.00" height="1.05"/>
</g>
<g opacity="0.25" fill="#555" filter="url(#bb)">
<ellipse cx="151.60" cy="569.30" rx="1.60" ry="0.70"/>
<ellipse cx="162.80" cy="569.30" rx="1.60" ry="0.70"/>
<rect x="151.60" y="568.81" width="11.20" height="0.98"/>
</g>
<g opacity="0.55" fill="#555" filter="url(#bb)">
<ellipse cx="101.01" cy="593.85" rx="1.51" ry="1.35"/>
<ellipse cx="110.09" cy="593.85" rx="1.51" ry="1.35"/>
<rect x="101.01" y="592.90" width="9.07" height="1.89"/>
</g>
<g opacity="0.6" fill="#444" filter="url(#bb)">
<ellipse cx="117.60" cy="593.20" rx="1.60" ry="1.50"/>
<ellipse cx="127.40" cy="593.20" rx="1.60" ry="1.50"/>
<rect x="117.60" y="592.15" width="9.80" height="2.10"/>
</g>
<g opacity="0.6" fill="#444" filter="url(#bb)">
<ellipse cx="134.60" cy="593.00" rx="1.60" ry="1.50"/>
<ellipse cx="144.40" cy="593.00" rx="1.60" ry="1.50"/>
<rect x="134.60" y="591.95" width="9.80" height="2.10"/>
</g>
<g opacity="0.8" fill="#222" filter="url(#bb)">
<ellipse cx="151.80" cy="592.40" rx="1.60" ry="1.90"/>
<ellipse cx="162.80" cy="592.40" rx="1.60" ry="1.90"/>
<rect x="151.80" y="590.98" width="11.00" height="2.85"/>
</g>
<text x="80.06" y="577.00" font-size="7.0" fill="#1e1e1e" color="#1e1e1e" textLength="14.37" lengthAdjust="spacingAndGlyphs" style="stroke-width:0.12px">PPK</text>
<text x="80.08" y="595.70" font-size="7.0" fill="#1e1e1e" color="#1e1e1e" textLength="14.74" lengthAdjust="spacingAndGlyphs" style="stroke-width:0.12px">PKal</text>
<rect x="171.20" y="573.30" width="1.40" height="1.20" fill="#111"/>
<rect x="171.20" y="590.60" width="1.40" height="1.20" fill="#111"/>
<rect x="171.20" y="599.40" width="1.40" height="1.20" fill="#111"/>
<text x="176.10" y="576.10" font-size="6.8" fill="#1e1e1e" color="#1e1e1e" textLength="21.35" lengthAdjust="spacingAndGlyphs" style="stroke-width:0.12px">75 kDa</text>
<text x="176.18" y="593.50" font-size="6.8" fill="#1e1e1e" color="#1e1e1e" textLength="21.27" lengthAdjust="spacingAndGlyphs" style="stroke-width:0.12px">50 kDa</text>
<text x="176.19" y="603.00" font-size="6.8" fill="#1e1e1e" color="#1e1e1e" textLength="21.26" lengthAdjust="spacingAndGlyphs" style="stroke-width:0.12px">37 kDa</text>
<text x="84.38" y="615.80" font-size="6.8" fill="#1e1e1e" color="#1e1e1e" textLength="26.78" lengthAdjust="spacingAndGlyphs" style="stroke-width:0.12px">Baseline</text>
<text x="120.75" y="615.80" font-size="6.8" fill="#1e1e1e" color="#1e1e1e" textLength="4.11" lengthAdjust="spacingAndGlyphs" style="stroke-width:0.12px">5</text>
<text x="136.20" y="615.80" font-size="6.8" fill="#1e1e1e" color="#1e1e1e" textLength="6.60" lengthAdjust="spacingAndGlyphs" style="stroke-width:0.12px">15</text>
<text x="153.09" y="615.80" font-size="6.8" fill="#1e1e1e" color="#1e1e1e" textLength="7.52" lengthAdjust="spacingAndGlyphs" style="stroke-width:0.12px">30</text>
<text x="169.92" y="615.80" font-size="6.8" fill="#1e1e1e" color="#1e1e1e" textLength="15.86" lengthAdjust="spacingAndGlyphs" style="stroke-width:0.12px">(min)</text>
<line x1="58.80" y1="620.40" x2="58.80" y2="717.77" stroke="#000" stroke-width="1.75"/>
<line x1="55.80" y1="716.90" x2="58.80" y2="716.90" stroke="#000" stroke-width="1.35"/>
<text x="47.71" y="724.76" font-size="8.2" fill="#1e1e1e" color="#1e1e1e">0</text>
<line x1="55.80" y1="703.47" x2="58.80" y2="703.47" stroke="#000" stroke-width="1.35"/>
<text x="43.15" y="710.66" font-size="8.2" fill="#1e1e1e" color="#1e1e1e">10</text>
<line x1="55.80" y1="690.04" x2="58.80" y2="690.04" stroke="#000" stroke-width="1.35"/>
<text x="43.15" y="696.56" font-size="8.2" fill="#1e1e1e" color="#1e1e1e">20</text>
<line x1="55.80" y1="676.61" x2="58.80" y2="676.61" stroke="#000" stroke-width="1.35"/>
<text x="43.15" y="682.46" font-size="8.2" fill="#1e1e1e" color="#1e1e1e">30</text>
<line x1="55.80" y1="663.18" x2="58.80" y2="663.18" stroke="#000" stroke-width="1.35"/>
<text x="43.15" y="668.36" font-size="8.2" fill="#1e1e1e" color="#1e1e1e">40</text>
<line x1="55.80" y1="649.75" x2="58.80" y2="649.75" stroke="#000" stroke-width="1.35"/>
<text x="43.15" y="654.26" font-size="8.2" fill="#1e1e1e" color="#1e1e1e">50</text>
<line x1="55.80" y1="636.32" x2="58.80" y2="636.32" stroke="#000" stroke-width="1.35"/>
<text x="43.15" y="640.16" font-size="8.2" fill="#1e1e1e" color="#1e1e1e">60</text>
<line x1="55.80" y1="622.89" x2="58.80" y2="622.89" stroke="#000" stroke-width="1.35"/>
<text x="43.15" y="626.06" font-size="8.2" fill="#1e1e1e" color="#1e1e1e">70</text>
<line x1="57.92" y1="716.90" x2="214.40" y2="716.90" stroke="#000" stroke-width="1.75"/>
<line x1="58.80" y1="716.90" x2="58.80" y2="719.90" stroke="#000" stroke-width="1.35"/>
<line x1="96.50" y1="716.90" x2="96.50" y2="719.90" stroke="#000" stroke-width="1.35"/>
<line x1="135.20" y1="716.90" x2="135.20" y2="719.90" stroke="#000" stroke-width="1.35"/>
<line x1="173.50" y1="716.90" x2="173.50" y2="719.90" stroke="#000" stroke-width="1.35"/>
<line x1="212.50" y1="716.90" x2="212.50" y2="719.90" stroke="#000" stroke-width="1.35"/>
<rect x="66.30" y="646.60" width="11.60" height="70.30" fill="#a6022c"/>
<rect x="66.30" y="646.60" width="11.60" height="1.00" fill="#76001f"/>
<line x1="72.10" y1="632.80" x2="72.10" y2="646.60" stroke="#000" stroke-width="1.4"/>
<line x1="70.50" y1="633.50" x2="73.70" y2="633.50" stroke="#000" stroke-width="1.5"/>
<rect x="104.50" y="673.30" width="11.60" height="43.60" fill="#a6022c"/>
<rect x="104.50" y="673.30" width="11.60" height="1.00" fill="#76001f"/>
<line x1="110.30" y1="659.80" x2="110.30" y2="673.30" stroke="#000" stroke-width="1.4"/>
<line x1="108.70" y1="660.50" x2="111.90" y2="660.50" stroke="#000" stroke-width="1.5"/>
<rect x="142.50" y="676.50" width="11.60" height="40.40" fill="#a6022c"/>
<rect x="142.50" y="676.50" width="11.60" height="1.00" fill="#76001f"/>
<line x1="148.30" y1="666.30" x2="148.30" y2="676.50" stroke="#000" stroke-width="1.4"/>
<line x1="146.70" y1="667.00" x2="149.90" y2="667.00" stroke="#000" stroke-width="1.5"/>
<rect x="180.70" y="691.40" width="11.60" height="25.50" fill="#a6022c"/>
<rect x="180.70" y="691.40" width="11.60" height="1.00" fill="#76001f"/>
<line x1="186.50" y1="688.10" x2="186.50" y2="691.40" stroke="#000" stroke-width="1.4"/>
<line x1="184.90" y1="688.80" x2="188.10" y2="688.80" stroke="#000" stroke-width="1.5"/>
<rect x="77.90" y="692.30" width="11.60" height="24.60" fill="#2c4c82"/>
<rect x="77.90" y="692.30" width="11.60" height="1.00" fill="#182b55"/>
<line x1="83.70" y1="689.20" x2="83.70" y2="692.30" stroke="#000" stroke-width="1.4"/>
<line x1="82.10" y1="689.90" x2="85.30" y2="689.90" stroke="#000" stroke-width="1.5"/>
<rect x="116.10" y="684.10" width="11.60" height="32.80" fill="#2c4c82"/>
<rect x="116.10" y="684.10" width="11.60" height="1.00" fill="#182b55"/>
<line x1="121.90" y1="678.70" x2="121.90" y2="684.10" stroke="#000" stroke-width="1.4"/>
<line x1="120.30" y1="679.40" x2="123.50" y2="679.40" stroke="#000" stroke-width="1.5"/>
<rect x="154.10" y="688.70" width="11.60" height="28.20" fill="#2c4c82"/>
<rect x="154.10" y="688.70" width="11.60" height="1.00" fill="#182b55"/>
<line x1="159.90" y1="682.50" x2="159.90" y2="688.70" stroke="#000" stroke-width="1.4"/>
<line x1="158.30" y1="683.20" x2="161.50" y2="683.20" stroke="#000" stroke-width="1.5"/>
<rect x="192.30" y="673.30" width="11.60" height="43.60" fill="#2c4c82"/>
<rect x="192.30" y="673.30" width="11.60" height="1.00" fill="#182b55"/>
<line x1="198.10" y1="661.70" x2="198.10" y2="673.30" stroke="#000" stroke-width="1.4"/>
<line x1="196.50" y1="662.40" x2="199.70" y2="662.40" stroke="#000" stroke-width="1.5"/>
<circle cx="186.40" cy="682.70" r="1.2" fill="#111"/>
<circle cx="198.20" cy="656.10" r="1.2" fill="#111"/>
<rect x="191.30" y="623.20" width="4.10" height="3.80" fill="#720828"/>
<text x="198.33" y="627.10" font-size="8.0" fill="#1e1e1e" color="#1e1e1e" textLength="16.31" lengthAdjust="spacingAndGlyphs">PPK</text>
<rect x="191.30" y="634.70" width="4.10" height="3.90" fill="#1f2b58"/>
<text x="198.31" y="638.70" font-size="8.0" fill="#1e1e1e" color="#1e1e1e" textLength="17.81" lengthAdjust="spacingAndGlyphs">PKal</text>
<text x="61.34" y="731.30" font-size="8.0" fill="#1e1e1e" color="#1e1e1e" textLength="33.40" lengthAdjust="spacingAndGlyphs">Baseline</text>
<text x="113.74" y="731.30" font-size="8.0" fill="#1e1e1e" color="#1e1e1e" textLength="5.63" lengthAdjust="spacingAndGlyphs">5</text>
<text x="149.64" y="731.30" font-size="8.0" fill="#1e1e1e" color="#1e1e1e" textLength="10.41" lengthAdjust="spacingAndGlyphs">15</text>
<text x="187.70" y="731.30" font-size="8.0" fill="#1e1e1e" color="#1e1e1e" textLength="10.32" lengthAdjust="spacingAndGlyphs">30</text>
<text x="115.04" y="745.30" font-size="9.5" fill="#1e1e1e" color="#1e1e1e" textLength="44.38" lengthAdjust="spacingAndGlyphs">Time (min)</text>
<text transform="translate(31.50,690.29) rotate(-90)" x="0" y="0" font-size="9.4" fill="#1e1e1e" color="#1e1e1e" textLength="42.06" lengthAdjust="spacingAndGlyphs">% change</text>
</g></svg>
<div id="b"></div>
</div></body></html>
